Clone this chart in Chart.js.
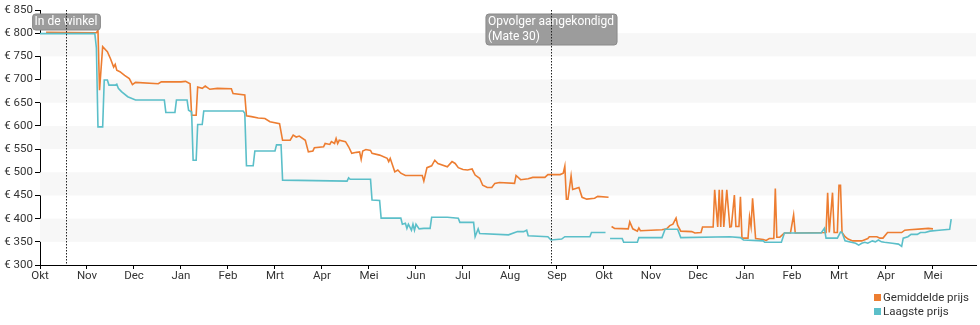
<!DOCTYPE html>
<html>
<head>
<meta charset="utf-8">
<script src="https://cdn.jsdelivr.net/npm/chart.js@4.4.1/dist/chart.umd.min.js"></script>
<style>
    body { margin: 0; background: #fff; }
    #priceDiv { position: relative; width: 980px; height: 325px; }
    #priceLegend { position: absolute; left: 874px; top: 290px; font: 11.5px Roboto, sans-serif; color: #333; }
    #priceLegend div { height: 14px; line-height: 14px; white-space: nowrap; }
    #priceLegend span { display: inline-block; width: 7px; height: 7px; margin-right: 2px; }
</style>
</head>
<body>
<div id="priceDiv">
    <canvas id="priceGraph"></canvas>
    <div id="priceLegend"></div>
</div>
<script>

const monthLabels = ['Okt', 'Nov', 'Dec', 'Jan', 'Feb', 'Mrt', 'Apr', 'Mei', 'Jun', 'Jul',
    'Aug', 'Sep', 'Okt', 'Nov', 'Dec', 'Jan', 'Feb', 'Mrt', 'Apr', 'Mei'];

const priceTicks = [300, 350, 400, 450, 500, 550, 600, 650, 700, 750, 800, 850];

const eventDates = ['2018-10-18', '2019-08-28'];
const eventLabels = [['In de winkel'], ['Opvolger aangekondigd', '(Mate 30)']];

// Gemiddelde prijs
const avgDates = [
    '2018-10-05', '2018-11-07', '2018-11-08', '2018-11-09', '2018-11-11', '2018-11-14', '2018-11-16', '2018-11-18',
    '2018-11-19', '2018-11-20', '2018-11-22', '2018-11-25', '2018-11-28', '2018-11-30', '2018-12-02', '2018-12-17',
    '2018-12-19', '2019-01-01', '2019-01-04', '2019-01-07', '2019-01-08', '2019-01-11', '2019-01-12', '2019-01-15',
    '2019-01-17', '2019-01-20', '2019-01-25', '2019-02-03', '2019-02-04', '2019-02-11', '2019-02-12', '2019-02-15',
    '2019-02-19', '2019-02-23', '2019-02-26', '2019-03-04', '2019-03-06', '2019-03-11', '2019-03-13', '2019-03-15',
    '2019-03-17', '2019-03-21', '2019-03-23', '2019-03-26', '2019-03-27', '2019-04-02', '2019-04-03', '2019-04-06',
    '2019-04-07', '2019-04-09', '2019-04-10', '2019-04-11', '2019-04-12', '2019-04-16', '2019-04-18', '2019-04-20',
    '2019-04-23', '2019-04-25', '2019-04-26', '2019-04-27', '2019-04-29', '2019-05-02', '2019-05-03', '2019-05-08',
    '2019-05-13', '2019-05-14', '2019-05-15', '2019-05-18', '2019-05-20', '2019-05-22', '2019-05-25', '2019-06-05',
    '2019-06-06', '2019-06-08', '2019-06-11', '2019-06-13', '2019-06-15', '2019-06-21', '2019-06-24', '2019-06-26',
    '2019-06-28', '2019-07-01', '2019-07-04', '2019-07-07', '2019-07-09', '2019-07-12', '2019-07-14', '2019-07-17',
    '2019-07-20', '2019-07-22', '2019-07-25', '2019-08-04', '2019-08-05', '2019-08-08', '2019-08-13', '2019-08-16',
    '2019-08-24', '2019-08-26', '2019-09-03', '2019-09-05', '2019-09-06', '2019-09-07', '2019-09-08', '2019-09-10',
    '2019-09-11', '2019-09-13', '2019-09-15', '2019-09-17', '2019-09-20', '2019-09-25', '2019-09-27', '2019-10-04',
    '2019-10-05', '2019-10-06', '2019-10-08', '2019-10-17', '2019-10-18', '2019-10-20', '2019-10-23', '2019-10-24',
    '2019-10-25', '2019-11-08', '2019-11-11', '2019-11-13', '2019-11-15', '2019-11-17', '2019-11-18', '2019-11-20',
    '2019-11-27', '2019-11-29', '2019-12-03', '2019-12-04', '2019-12-11', '2019-12-12', '2019-12-14', '2019-12-15',
    '2019-12-16', '2019-12-17', '2019-12-18', '2019-12-20', '2019-12-22', '2019-12-23', '2019-12-25', '2019-12-26',
    '2019-12-28', '2019-12-29', '2019-12-30', '2020-01-03', '2020-01-04', '2020-01-05', '2020-01-06', '2020-01-08',
    '2020-01-13', '2020-01-15', '2020-01-17', '2020-01-20', '2020-01-21', '2020-01-22', '2020-01-24', '2020-01-27',
    '2020-01-31', '2020-02-02', '2020-02-03', '2020-02-22', '2020-02-23', '2020-02-24', '2020-02-26', '2020-02-27',
    '2020-02-29', '2020-03-01', '2020-03-02', '2020-03-03', '2020-03-05', '2020-03-07', '2020-03-10', '2020-03-16',
    '2020-03-20', '2020-03-21', '2020-03-26', '2020-03-28', '2020-03-30', '2020-04-02', '2020-04-11', '2020-04-13',
    '2020-04-16', '2020-04-24', '2020-04-28', '2020-05-01'
];
const avgPrices = [
    802, 801, 806, 677, 771, 760, 745, 727,
    733, 720, 717, 709, 702, 689, 694, 691,
    695, 695, 696, 691, 623, 623, 684, 681,
    686, 679, 681, 680, 670, 667, 622, 620,
    617, 616, 609, 605, 569, 569, 580, 576,
    578, 569, 544, 546, 553, 555, 562, 560,
    566, 562, 573, 562, 569, 566, 555, 541,
    543, 544, 528, 546, 549, 547, 541, 537,
    530, 523, 530, 501, 505, 498, 493, 493,
    481, 510, 514, 526, 519, 512, 523, 519,
    510, 506, 505, 507, 494, 487, 472, 467,
    467, 476, 478, 476, 493, 484, 486, 489,
    489, 495, 495, 498, 513, 442, 442, 492,
    463, 465, 467, 446, 442, 444, 448, 446,
    null, 383, 379, 378, 393, 378, 373, 380,
    374, 376, 378, 385, 388, 401, 386, 373,
    372, 369, 370, 382, 382, 462, 382, 462,
    382, 462, 382, 462, 382, 383, 451, 383,
    383, 447, 358, 358, 404, 383, 444, 357,
    355, 353, 357, 357, 465, 360, 360, 369,
    369, 408, 369, 370, 456, 370, 456, 370,
    370, 472, 472, 370, 361, 356, 352, 352,
    357, 361, 361, 358, 358, 370, 370, 375,
    376, 378, 379, 378
];

// Laagste prijs
const lowDates = [
    '2018-10-01', '2018-11-06', '2018-11-07', '2018-11-08', '2018-11-11', '2018-11-12', '2018-11-14', '2018-11-15',
    '2018-11-19', '2018-11-20', '2018-11-21', '2018-11-23', '2018-11-27', '2018-12-02', '2018-12-21', '2018-12-22',
    '2018-12-28', '2018-12-29', '2019-01-05', '2019-01-06', '2019-01-08', '2019-01-09', '2019-01-11', '2019-01-12',
    '2019-01-15', '2019-01-16', '2019-02-10', '2019-02-11', '2019-02-12', '2019-02-16', '2019-02-17', '2019-03-01',
    '2019-03-02', '2019-03-05', '2019-03-06', '2019-04-17', '2019-04-18', '2019-04-19', '2019-05-02', '2019-05-03',
    '2019-05-08', '2019-05-09', '2019-05-22', '2019-05-23', '2019-05-25', '2019-05-26', '2019-05-27', '2019-05-29',
    '2019-05-30', '2019-05-31', '2019-06-01', '2019-06-03', '2019-06-06', '2019-06-10', '2019-06-11', '2019-06-21',
    '2019-06-28', '2019-06-29', '2019-07-08', '2019-07-09', '2019-07-11', '2019-07-12', '2019-07-31', '2019-08-06',
    '2019-08-10', '2019-08-12', '2019-08-13', '2019-08-26', '2019-08-28', '2019-09-04', '2019-09-06', '2019-09-22',
    '2019-09-23', '2019-10-02', '2019-10-03', '2019-10-05', '2019-10-13', '2019-10-14', '2019-10-23', '2019-10-24',
    '2019-11-08', '2019-11-10', '2019-11-18', '2019-11-20', '2019-12-22', '2019-12-29', '2019-12-31', '2020-01-13',
    '2020-01-14', '2020-01-25', '2020-01-27', '2020-02-19', '2020-02-21', '2020-02-22', '2020-02-29', '2020-03-02',
    '2020-03-03', '2020-03-05', '2020-03-12', '2020-03-14', '2020-03-16', '2020-03-18', '2020-03-20', '2020-03-23',
    '2020-03-25', '2020-03-27', '2020-03-29', '2020-03-31', '2020-04-05', '2020-04-09', '2020-04-11', '2020-04-12',
    '2020-04-15', '2020-04-17', '2020-04-21', '2020-04-23', '2020-04-26', '2020-04-29', '2020-05-05', '2020-05-12',
    '2020-05-13'
];
const lowPrices = [
    799, 799, 768, 598, 598, 699, 699, 688,
    688, 690, 681, 674, 663, 656, 656, 629,
    629, 656, 656, 634, 630, 526, 526, 603,
    603, 632, 632, 627, 514, 514, 546, 546,
    559, 559, 483, 481, 488, 485, 485, 440,
    439, 401, 401, 388, 390, 379, 388, 375,
    388, 375, 388, 378, 379, 379, 403, 403,
    401, 392, 392, 361, 378, 368, 365, 372,
    372, 375, 363, 361, 354, 356, 361, 361,
    370, 370, null, 357, 357, 349, 349, 359,
    359, 377, 377, 359, 361, 359, 354, 352,
    349, 349, 369, 369, 379, 358, 358, 371,
    370, 352, 347, 343, 347, 349, 347, 352,
    350, 354, 350, 349, 347, 345, 340, 358,
    361, 366, 366, 370, 370, 373, 375, 377,
    399
];

document.addEventListener('DOMContentLoaded', (event) => {
    priceChart('priceGraph');
});

/* Function: monthPos
 * Turns a 'YYYY-MM-DD' string into a position on the x axis,
 * counted in months from the first of October 2018.
 */
function monthPos(dateStr) {
    let parts = dateStr.split('-').map(Number);
    let daysInMonth = new Date(parts[0], parts[1], 0).getDate();
    return (parts[0] - 2018) * 12 + (parts[1] - 10) + (parts[2] - 1) / daysInMonth;
}

function toPoints(dates, prices) {
    let points = [];
    for (var i = 0; i < dates.length; i++) {
        points.push({ x: monthPos(dates[i]), y: prices[i] });
    }
    return points;
}

// light grey band behind every other 50 euro step
const bandPlugin = {
    id: 'bands',
    beforeDatasetsDraw(chart) {
        let ctx = chart.ctx, area = chart.chartArea, yScale = chart.scales.y;
        ctx.save();
        ctx.fillStyle = '#f7f7f7';
        for (var k = 1; k < priceTicks.length - 1; k += 2) {
            let top = yScale.getPixelForValue(priceTicks[k + 1]);
            let bottom = yScale.getPixelForValue(priceTicks[k]);
            ctx.fillRect(area.left, top, area.right - area.left, bottom - top);
        }
        ctx.restore();
    }
};

// dotted markers with a grey label box on top
const eventPlugin = {
    id: 'events',
    afterDatasetsDraw(chart) {
        let ctx = chart.ctx, area = chart.chartArea, xScale = chart.scales.x;
        ctx.save();
        ctx.font = '12px Roboto, sans-serif';
        for (var i = 0; i < eventDates.length; i++) {
            let x = Math.round(xScale.getPixelForValue(monthPos(eventDates[i]))) + 0.5;
            let lines = eventLabels[i];
            let w = Math.max(...lines.map(l => ctx.measureText(l).width)) + 5;
            let h = lines.length * 15 + 1;
            let bx = x - w / 2, by = 14;

            ctx.fillStyle = '#9c9c9c';
            ctx.strokeStyle = '#8a8a8a';
            ctx.lineWidth = 1;
            ctx.beginPath();
            ctx.roundRect(bx, by, w, h, 3);
            ctx.fill();
            ctx.stroke();

            ctx.fillStyle = '#fff';
            ctx.textBaseline = 'middle';
            for (var j = 0; j < lines.length; j++) {
                ctx.fillText(lines[j], bx + 2, by + 8 + j * 15);
            }

            ctx.strokeStyle = '#222';
            ctx.setLineDash([1.5, 1.5]);
            ctx.beginPath();
            ctx.moveTo(x, area.top);
            ctx.lineTo(x, area.bottom);
            ctx.stroke();
            ctx.setLineDash([]);
        }
        ctx.restore();
    }
};

function priceChart(chartName) {

    let chartdata = {
        datasets: [
            {
                label: 'Gemiddelde prijs',
                data: toPoints(avgDates, avgPrices),
                borderColor: '#ed7d31',
                backgroundColor: '#ed7d31',
                borderWidth: 1.6,
                pointRadius: 0,
                tension: 0,
                fill: false,
                order: 1
            },
            {
                label: 'Laagste prijs',
                data: toPoints(lowDates, lowPrices),
                borderColor: '#5bbfc9',
                backgroundColor: '#5bbfc9',
                borderWidth: 1.6,
                pointRadius: 0,
                tension: 0,
                fill: false,
                order: 0
            }
        ]
    };

    let axisFont = { family: 'Roboto', size: 11.5 };

    let priceGraph = new Chart(document.getElementById(chartName), {
        type: 'line',
        data: chartdata,
        plugins: [bandPlugin, eventPlugin],
        options: {
            responsive: true,
            maintainAspectRatio: false,
            animation: false,
            layout: { padding: { top: 10, right: 4, left: 0, bottom: 0 } },
            plugins: {
                legend: { display: false },
                tooltip: { enabled: false }
            },
            scales: {
                x: {
                    type: 'linear',
                    min: 0,
                    max: 19.915,
                    afterFit: (scale) => { scale.height = 60; },
                    afterBuildTicks: (scale) => {
                        scale.ticks = monthLabels.map((label, i) => ({ value: i }));
                    },
                    ticks: {
                        color: '#333',
                        font: axisFont,
                        padding: 0,
                        maxRotation: 0,
                        autoSkip: false,
                        callback: (value) => monthLabels[value]
                    },
                    grid: { drawOnChartArea: false, drawTicks: true, tickLength: 4, color: '#000' },
                    border: { display: true, color: '#000', width: 1 }
                },
                y: {
                    min: 300,
                    max: 850,
                    afterFit: (scale) => { scale.width = 40; },
                    afterBuildTicks: (scale) => {
                        scale.ticks = priceTicks.map(v => ({ value: v }));
                    },
                    ticks: {
                        color: '#333',
                        font: axisFont,
                        padding: 2,
                        callback: (value) => '€ ' + value
                    },
                    grid: { drawOnChartArea: false, drawTicks: true, tickLength: 5, color: '#000' },
                    border: { display: true, color: '#000', width: 1 }
                }
            }
        }
    });

    // legend entries under the chart, one per line
    let legend = document.getElementById('priceLegend');
    chartdata.datasets.forEach(ds => {
        let row = document.createElement('div');
        row.innerHTML = '<span style="background:' + ds.borderColor + '"></span>' + ds.label;
        legend.appendChild(row);
    });
}
</script>
</body>
</html>
